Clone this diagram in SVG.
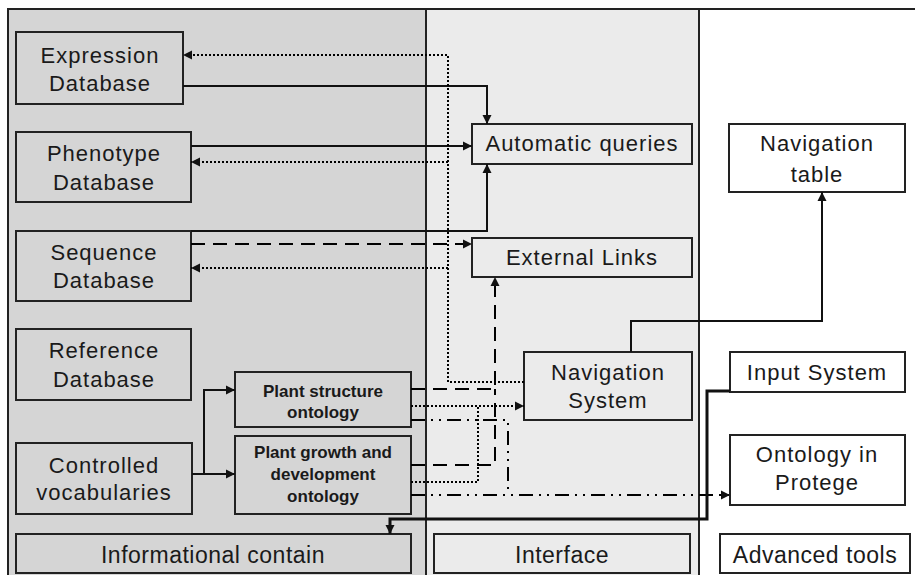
<svg xmlns="http://www.w3.org/2000/svg" width="915" height="575" viewBox="0 0 915 575">
<defs>
<marker id="arr" markerUnits="userSpaceOnUse" markerWidth="10" markerHeight="10" refX="9" refY="5" orient="auto">
<path d="M0,0.5 L9,5 L0,9.5 z" fill="#111"/>
</marker>
<style>
.panel{stroke:#222;stroke-width:2}
.box{stroke:#222;stroke-width:2}
.lg{fill:#d5d5d5}
.md{fill:#ebebeb}
.wh{fill:#ffffff}
text{font-family:"Liberation Sans",Arial,sans-serif;fill:#1a1a1a;text-anchor:middle}
.t{font-size:22px;letter-spacing:1px}
.s{font-size:17px;font-weight:bold}
.b{font-size:23px;letter-spacing:0.5px}
.c{fill:none;stroke:#111}
.solid{stroke-width:2}
.thick{stroke-width:3}
.dot{stroke-width:2;stroke-dasharray:2,2;stroke:#000}
.dash{stroke-width:2;stroke-dasharray:14,8;stroke:#000}
.dd{stroke-width:2;stroke-dasharray:14,6,2,6,2,6;stroke:#000}
</style>
</defs>
<rect x="0" y="0" width="915" height="575" fill="#ffffff"/>
<g id="panels">
<rect class="panel lg" x="8" y="9" width="418" height="580"/>
<rect class="panel md" x="426" y="9" width="273" height="580"/>
<rect class="panel wh" x="699" y="9" width="230" height="580"/>
</g>
<g id="expression-db"><rect class="box lg" x="16" y="32" width="167" height="72"/><text class="t" x="100" y="63">Expression</text><text class="t" x="100" y="91">Database</text></g>
<g id="phenotype-db"><rect class="box lg" x="16" y="132" width="175" height="70"/><text class="t" x="104" y="161">Phenotype</text><text class="t" x="104" y="190">Database</text></g>
<g id="sequence-db"><rect class="box lg" x="16" y="231" width="175" height="70"/><text class="t" x="104" y="260">Sequence</text><text class="t" x="104" y="288">Database</text></g>
<g id="reference-db"><rect class="box lg" x="16" y="329" width="175" height="71"/><text class="t" x="104" y="358">Reference</text><text class="t" x="104" y="387">Database</text></g>
<g id="controlled-vocab"><rect class="box lg" x="16" y="443" width="176" height="71"/><text class="t" x="104" y="473">Controlled</text><text class="t" x="104" y="500">vocabularies</text></g>
<g id="plant-structure"><rect class="box lg" x="235" y="372" width="176" height="55"/><text class="s" x="323" y="397">Plant structure</text><text class="s" x="323" y="418">ontology</text></g>
<g id="plant-growth"><rect class="box lg" x="235" y="436" width="176" height="78"/><text class="s" x="323" y="458">Plant growth and</text><text class="s" x="323" y="480">development</text><text class="s" x="323" y="502">ontology</text></g>
<g id="informational"><rect class="box lg" x="16" y="534" width="395" height="39"/><text class="b" x="213" y="563">Informational contain</text></g>
<g id="automatic-queries"><rect class="box md" x="472" y="124" width="220" height="40"/><text class="t" x="582" y="151">Automatic queries</text></g>
<g id="external-links"><rect class="box md" x="472" y="238" width="220" height="39"/><text class="t" x="582" y="265">External Links</text></g>
<g id="navigation-system"><rect class="box md" x="524" y="352" width="168" height="68"/><text class="t" x="608" y="380">Navigation</text><text class="t" x="608" y="408">System</text></g>
<g id="interface"><rect class="box md" x="434" y="534" width="256" height="39"/><text class="b" x="562" y="563">Interface</text></g>
<g id="navigation-table"><rect class="box wh" x="729" y="124" width="176" height="68"/><text class="t" x="817" y="151">Navigation</text><text class="t" x="817" y="182">table</text></g>
<g id="input-system"><rect class="box wh" x="730" y="352" width="175" height="40"/><text class="t" x="817" y="380">Input System</text></g>
<g id="ontology-protege"><rect class="box wh" x="730" y="435" width="175" height="70"/><text class="t" x="817" y="462">Ontology in</text><text class="t" x="817" y="490">Protege</text></g>
<g id="advanced-tools"><rect class="box wh" x="720" y="534" width="190" height="39"/><text class="b" x="815" y="563">Advanced tools</text></g>
<g id="connectors">
<path class="c solid" d="M183,86 H487 V124" marker-end="url(#arr)"/>
<path class="c solid" d="M191,146 H472" marker-end="url(#arr)"/>
<path class="c solid" d="M191,231 H487 V164" marker-end="url(#arr)"/>
<path class="c dot" d="M524,382 H448 V55 H183" marker-end="url(#arr)"/>
<path class="c dot" d="M448,162 H191" marker-end="url(#arr)"/>
<path class="c dot" d="M448,268 H191" marker-end="url(#arr)"/>
<path class="c dash" d="M191,244 H472" marker-end="url(#arr)"/>
<path class="c dash" d="M411,389 H495 V277" marker-end="url(#arr)"/>
<path class="c dash" d="M411,465 H495 V389"/>
<path class="c dot" d="M411,406 H524" marker-end="url(#arr)"/>
<path class="c dot" d="M411,482 H478 V406"/>
<path class="c dd" d="M411,420 H508 V495"/>
<path class="c dd" d="M411,495 H730" marker-end="url(#arr)"/>
<path class="c solid" d="M631,352 V321 H822 V192" marker-end="url(#arr)"/>
<path class="c thick" d="M730,391 H707 V519 H390 V534" marker-end="url(#arr)"/>
<path class="c solid" d="M192,474 H204 V390 H235" marker-end="url(#arr)"/>
<path class="c solid" d="M204,474 H235" marker-end="url(#arr)"/>
</g>
</svg>
